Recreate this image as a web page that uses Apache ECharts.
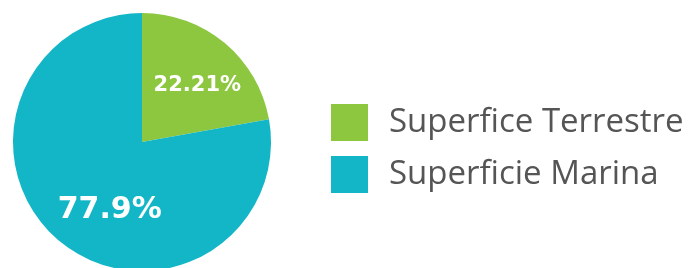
<!DOCTYPE html>
<html>
<head>
<meta charset="utf-8">
<script src="https://cdn.jsdelivr.net/npm/echarts@6/dist/echarts.min.js"></script>
<style>html,body{margin:0;padding:0;background:#fff;}#c{width:689px;height:268px;}</style>
</head>
<body>
<div id="c"></div>
<script>
const categories = ['Superfice Terrestre', 'Superficie Marina'];
const values = [22.21, 77.9];
const colors = ['#8dc63f', '#13b6c7'];

const chart = echarts.init(document.getElementById('c'), null, {renderer: 'canvas'});
const labelStyles = [
  {fontSize: 21, offset: [12, -5]},
  {fontSize: 30, offset: [11, 16]}
];
chart.setOption({
  animation: false,
  color: colors,
  legend: {
    orient: 'vertical',
    left: 326,
    top: 99,
    icon: 'rect',
    itemWidth: 37,
    itemHeight: 37,
    itemGap: 15,
    textStyle: {fontFamily: 'Open Sans', fontSize: 33, color: '#555', padding: [0, 0, 0, 16]},
    data: categories
  },
  series: [{
    type: 'pie',
    center: [142, 142],
    radius: 129,
    startAngle: 90,
    clockwise: true,
    label: {
      show: true,
      position: 'inside',
      formatter: '{c}%',
      color: '#fff',
      fontFamily: 'DejaVu Sans',
      fontWeight: 'bold'
    },
    labelLine: {show: false},
    emphasis: {disabled: true},
    data: categories.map((n, i) => ({
      name: n,
      value: values[i],
      label: {fontSize: labelStyles[i].fontSize, offset: labelStyles[i].offset}
    }))
  }]
});
</script>
</body>
</html>
